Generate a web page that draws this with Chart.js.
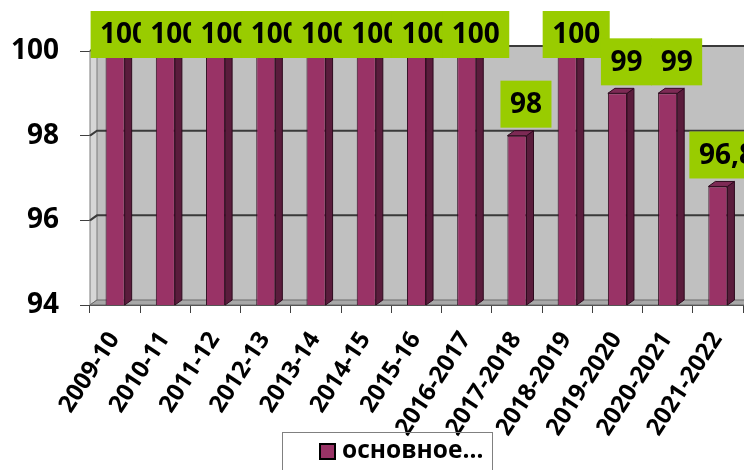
<!DOCTYPE html>
<html><head><meta charset="utf-8">
<script src="https://cdn.jsdelivr.net/npm/chart.js@4/dist/chart.umd.min.js"></script>
<style>html,body{margin:0;padding:0;background:#fff}#wrap{width:744px;height:470px;position:relative;overflow:hidden}</style>
</head><body><div id="wrap"><canvas id="c" width="744" height="470"></canvas></div>
<script>
const categories = ['2009-10','2010-11','2011-12','2012-13','2013-14','2014-15','2015-16','2016-2017','2017-2018','2018-2019','2019-2020','2020-2021','2021-2022'];
const seriesName = 'основное…';
const values = [100,100,100,100,100,100,100,100,98,100,99,99,96.8];
const yTicks = [94,96,98,100];

const FONT = "'Open Sans', 'DejaVu Sans', sans-serif";
const DX = 7, DY = -5;

const threeD = {
  id: 'threeD',
  beforeDatasetsDraw(chart) {
    const ctx = chart.ctx, ca = chart.chartArea, y = chart.scales.y;
    ctx.save();
    ctx.fillStyle = '#C0C0C0';
    ctx.fillRect(ca.left + DX, ca.top + DY, ca.right - ca.left + 20, ca.bottom - ca.top);
    ctx.beginPath();
    ctx.moveTo(ca.left, ca.top); ctx.lineTo(ca.left + DX, ca.top + DY);
    ctx.lineTo(ca.left + DX, ca.bottom + DY); ctx.lineTo(ca.left, ca.bottom); ctx.closePath();
    ctx.fillStyle = '#D6D6D6'; ctx.fill();
    ctx.strokeStyle = '#7a7a7a'; ctx.lineWidth = 1; ctx.stroke();
    ctx.beginPath();
    ctx.moveTo(ca.left, ca.bottom); ctx.lineTo(ca.right + 20, ca.bottom);
    ctx.lineTo(ca.right + 20, ca.bottom + DY); ctx.lineTo(ca.left + DX, ca.bottom + DY); ctx.closePath();
    ctx.fillStyle = '#A8A8A8'; ctx.fill();
    ctx.strokeStyle = '#6a6a6a'; ctx.stroke();
    ctx.strokeStyle = '#3a3a3a'; ctx.lineWidth = 2;
    yTicks.forEach(v => {
      if (v === y.min) return;
      const py = y.getPixelForValue(v);
      ctx.beginPath();
      ctx.moveTo(ca.left, py); ctx.lineTo(ca.left + DX, py + DY); ctx.lineTo(ca.right + 20, py + DY);
      ctx.stroke();
    });
    ctx.restore();
  },
  afterDatasetsDraw(chart) {
    const ctx = chart.ctx, ca = chart.chartArea;
    const meta = chart.getDatasetMeta(0);
    ctx.save();
    meta.data.forEach(bar => {
      const w = bar.width, x0 = bar.x - w / 2, x1 = bar.x + w / 2, top = bar.y, base = Math.min(bar.base, ca.bottom);
      ctx.lineWidth = 1; ctx.strokeStyle = '#2e0a1e';
      ctx.beginPath();
      ctx.moveTo(x1, top); ctx.lineTo(x1 + DX, top + DY); ctx.lineTo(x1 + DX, base + DY); ctx.lineTo(x1, base); ctx.closePath();
      ctx.fillStyle = '#5a1c3c'; ctx.fill(); ctx.stroke();
      ctx.beginPath();
      ctx.moveTo(x0, top); ctx.lineTo(x0 + DX, top + DY); ctx.lineTo(x1 + DX, top + DY); ctx.lineTo(x1, top); ctx.closePath();
      ctx.fillStyle = '#7d2a55'; ctx.fill(); ctx.stroke();
    });
    ctx.font = 'bold 28px ' + FONT;
    ctx.textAlign = 'center'; ctx.textBaseline = 'middle';
    meta.data.forEach((bar, i) => {
      const txt = String(values[i]).replace('.', ',');
      const tw = ctx.measureText(txt).width;
      const bw = tw + 19, bh = 47;
      const cx = bar.x + DX + 2;
      const by = Math.max(11, bar.y + DY - 3 - bh);
      ctx.fillStyle = '#99CC00';
      ctx.fillRect(cx - bw / 2, by, bw, bh);
      ctx.fillStyle = '#000';
      ctx.fillText(txt, cx, by + bh / 2 + 1);
    });
    ctx.restore();
  },
  afterDraw(chart) {
    const ctx = chart.ctx;
    ctx.save();
    ctx.strokeStyle = '#808080'; ctx.lineWidth = 1;
    ctx.strokeRect(282.5, 432.5, 210, 60);
    ctx.fillStyle = chart.data.datasets[0].backgroundColor;
    ctx.fillRect(320, 444, 15, 15);
    ctx.strokeStyle = '#000'; ctx.lineWidth = 2;
    ctx.strokeRect(320, 444, 15, 15);
    ctx.fillStyle = '#000';
    ctx.font = 'bold 24.5px ' + FONT;
    ctx.textAlign = 'left'; ctx.textBaseline = 'middle';
    ctx.fillText(chart.data.datasets[0].label, 342, 451);
    ctx.restore();
  }
};

new Chart(document.getElementById('c'), {
  type: 'bar',
  data: {
    labels: categories,
    datasets: [{
      label: seriesName,
      data: values,
      backgroundColor: '#993366',
      borderColor: '#2e0a1e',
      borderWidth: 1,
      barPercentage: 0.38,
      categoryPercentage: 1
    }]
  },
  options: {
    responsive: false,
    devicePixelRatio: 1,
    animation: false,
    layout: { padding: { top: 51, right: 1, left: 0, bottom: 0 } },
    plugins: { legend: { display: false }, tooltip: { enabled: false } },
    scales: {
      x: {
        afterFit: s => { s.height = 165; s.paddingRight = 0; },
        grid: { drawOnChartArea: false, tickLength: 8, color: '#404040', offset: true },
        border: { color: '#404040' },
        ticks: { font: { family: FONT, size: 24, weight: 'bold' }, color: '#000', minRotation: 57, maxRotation: 57, autoSkip: false, padding: 14, labelOffset: -1 }
      },
      y: {
        min: 94, max: 100,
        afterFit: s => { s.width = 90; },
        afterBuildTicks: s => { s.ticks = yTicks.map(v => ({ value: v })); },
        grid: { drawOnChartArea: false, tickLength: 10, color: '#404040' },
        border: { color: '#404040' },
        ticks: { font: { family: FONT, size: 28, weight: 'bold' }, color: '#000', padding: 21 }
      }
    }
  },
  plugins: [threeD]
});
</script></body></html>
